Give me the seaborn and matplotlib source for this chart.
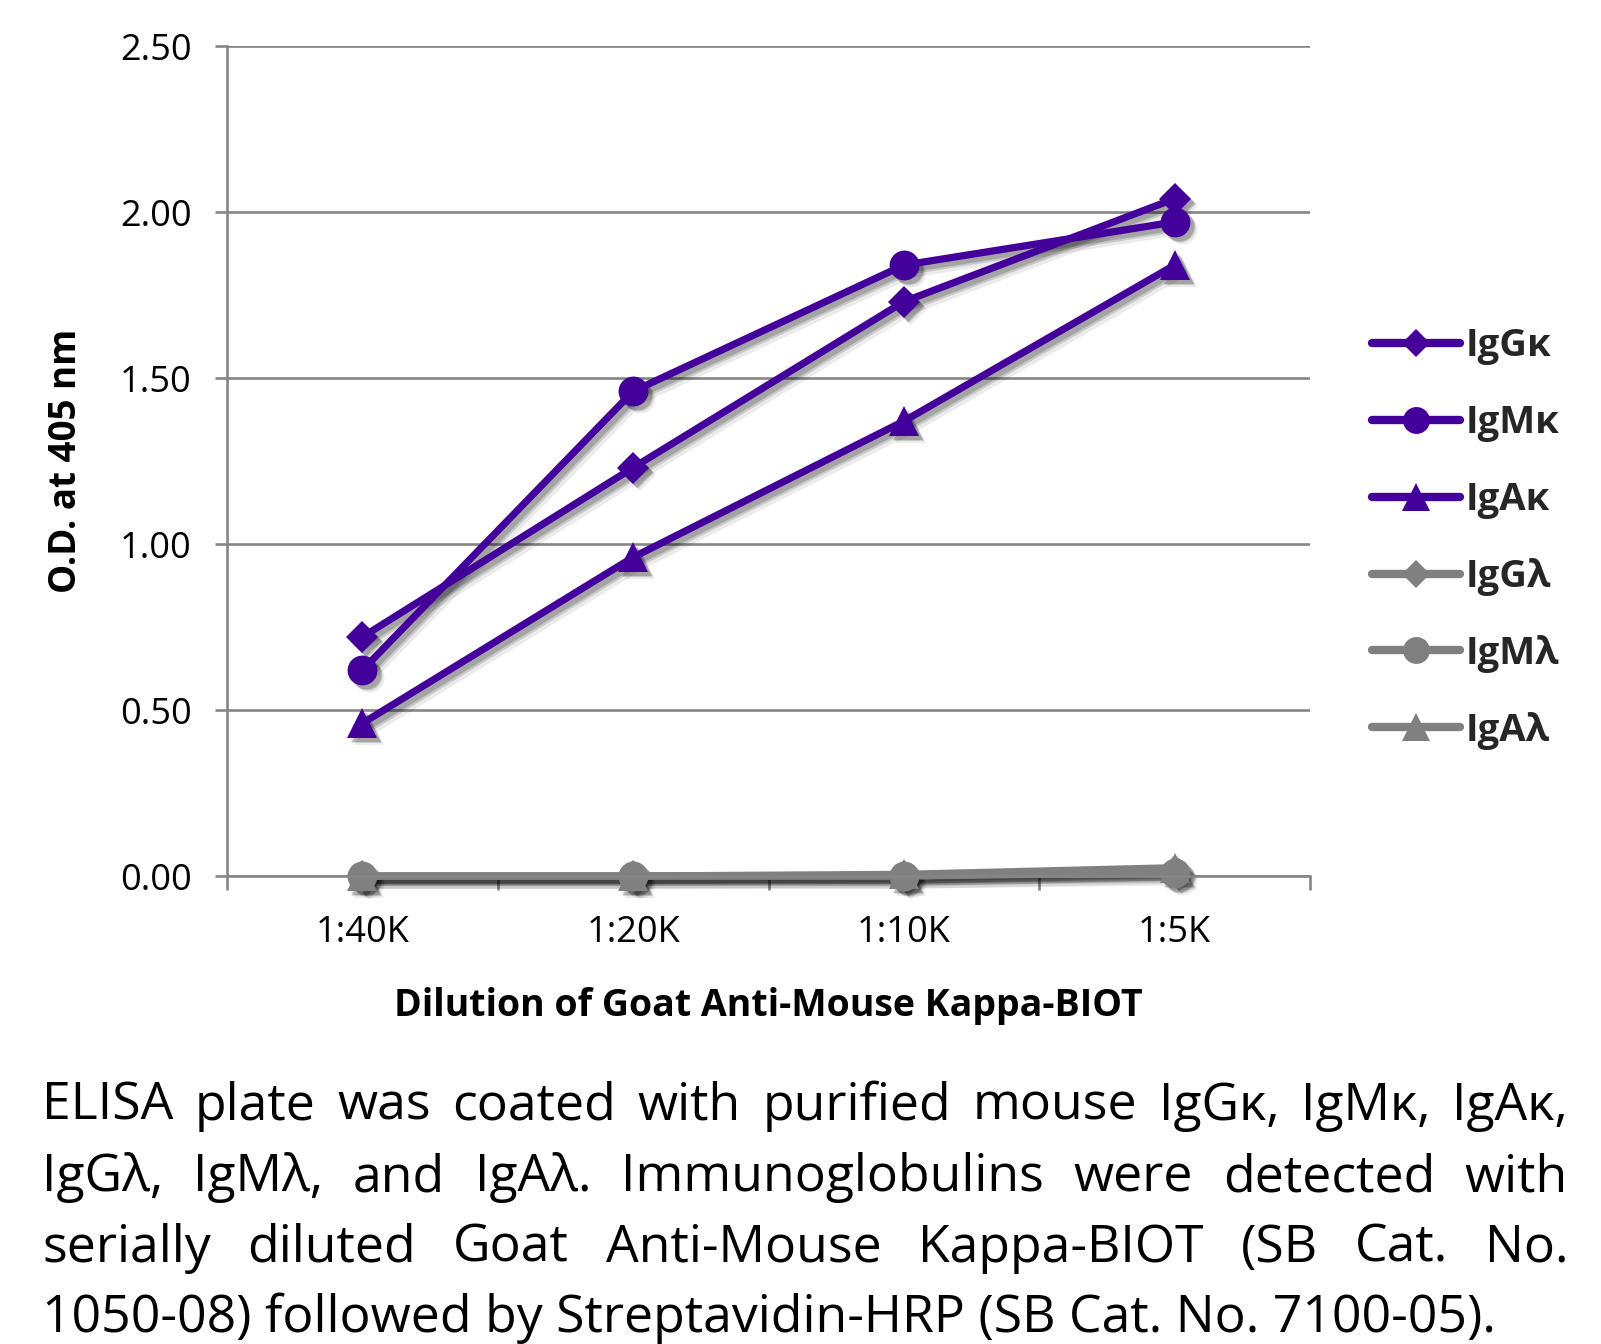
import numpy as np
import pandas as pd
import matplotlib
matplotlib.use("Agg")
import matplotlib.pyplot as plt
import seaborn as sns
from matplotlib import transforms as mtransforms
from matplotlib.lines import Line2D

# ---------------- data ----------------
dilutions = ["1:40K", "1:20K", "1:10K", "1:5K"]
igg_kappa = [0.72, 1.23, 1.73, 2.04]
igm_kappa = [0.62, 1.46, 1.84, 1.97]
iga_kappa = [0.46, 0.96, 1.37, 1.84]
igg_lambda = [0.00, 0.00, 0.00, 0.015]
igm_lambda = [0.00, 0.00, 0.00, 0.01]
iga_lambda = [0.00, 0.00, 0.005, 0.025]
series_names = ["IgGκ", "IgMκ", "IgAκ", "IgGλ", "IgMλ", "IgAλ"]
series_values = [igg_kappa, igm_kappa, iga_kappa, igg_lambda, igm_lambda, iga_lambda]
series_markers = ["D", "o", "^", "D", "o", "^"]
series_colors = ["#43009a", "#43009a", "#43009a", "#808080", "#808080", "#808080"]
y_ticks = [0.0, 0.5, 1.0, 1.5, 2.0, 2.5]
x_label = "Dilution of Goat Anti-Mouse Kappa-BIOT"
y_label = "O.D. at 405 nm"
caption_lines = [
    "ELISA plate was coated with purified mouse IgGκ, IgMκ, IgAκ,",
    "IgGλ, IgMλ, and IgAλ.  Immunoglobulins were detected with",
    "serially diluted Goat Anti-Mouse Kappa-BIOT (SB Cat. No.",
    "1050-08) followed by Streptavidin-HRP (SB Cat. No. 7100-05).",
]

# ---------------- style ----------------
sns.set_theme(style="white")
plt.rcParams["font.family"] = ["Open Sans", "DejaVu Sans"]
W, H = 1601, 1344
GRID = "#868686"
LW = 5.2
marker_ms = {"D": 16.0, "o": 21.5, "^": 22.0}

df = pd.DataFrame({
    "Dilution": dilutions * len(series_names),
    "OD": [v for vals in series_values for v in vals],
    "Series": np.repeat(series_names, len(dilutions)),
})
marker_map = dict(zip(series_names, series_markers))
color_map = dict(zip(series_names, series_colors))

fig = plt.figure(figsize=(W / 100, H / 100), dpi=100)
ax_l, ax_r, ax_t, ax_b = 227, 1310, 46, 876
ax = fig.add_axes([ax_l / W, 1 - ax_b / H, (ax_r - ax_l) / W, (ax_b - ax_t) / H])

# soft drop shadows (offset copies of the same data)
for off, alpha, extra in [(7, 0.08, 3.0), (5, 0.14, 1.5), (4, 0.18, 0.3)]:
    shadow_tr = mtransforms.offset_copy(ax.transData, fig=fig, x=off, y=-off, units="dots")
    sns.lineplot(data=df, x="Dilution", y="OD", hue="Series", style="Series",
                 markers=marker_map, dashes=False, sort=False, errorbar=None,
                 palette={n: "#000000" for n in series_names}, legend=False,
                 lw=LW + extra, alpha=alpha, transform=shadow_tr, ax=ax)

sns.lineplot(data=df, x="Dilution", y="OD", hue="Series", style="Series",
             markers=marker_map, dashes=False, sort=False, errorbar=None,
             palette=color_map, legend=False, lw=LW, ax=ax)

for ln in ax.lines:
    m = ln.get_marker()
    ln.set_markersize(marker_ms.get(m, 20))
    ln.set_markeredgewidth(0)
    ln.set_solid_capstyle("round")
    ln.set_solid_joinstyle("round")
    ln.set_clip_on(False)

# axes cosmetics
ax.set_xlim(-0.5, 3.5)
ax.set_ylim(0, 2.5)
ax.set_yticks(y_ticks)
ax.set_yticklabels([f"{t:.2f}" for t in y_ticks])
ax.set_xticks(range(len(dilutions)))
ax.set_xticklabels(dilutions)
ax.set_xticks(np.arange(-0.5, len(dilutions), 1.0), minor=True)
ax.yaxis.grid(True, color=GRID, lw=1.9)
ax.xaxis.grid(False)
ax.set_axisbelow(True)
for s in ["top", "right"]:
    ax.spines[s].set_visible(False)
for s in ["left", "bottom"]:
    ax.spines[s].set_color(GRID)
    ax.spines[s].set_linewidth(1.9)
ax.tick_params(axis="y", which="major", left=True, length=8.6, width=1.9,
               color=GRID, pad=17, labelsize=26, labelcolor="black")
ax.tick_params(axis="x", which="major", bottom=False, length=0, pad=28,
               labelsize=26, labelcolor="black")
ax.tick_params(axis="x", which="minor", bottom=True, length=10, width=1.9, color=GRID)

ax.set_xlabel(x_label, fontsize=27, fontweight="bold", color="black")
ax.set_ylabel(y_label, fontsize=26.5, fontweight="bold", color="black")
ax.xaxis.set_label_coords(0.5, -(987 - ax_b) / (ax_b - ax_t))
ax.xaxis.label.set_va("top")
ax.yaxis.set_label_coords((85 - ax_l) / (ax_r - ax_l), 0.5)

# legend
handles = [Line2D([], [], color=c, lw=LW + 0.8, marker=m, ms=marker_ms[m] * 0.9,
                  mew=0, solid_capstyle="round")
           for c, m in zip(series_colors, series_markers)]
fig.legend(handles, series_names, loc="upper left",
           bbox_to_anchor=(1372 / W, 1 - 327 / H), frameon=False,
           handlelength=2.3, handletextpad=0.16, labelspacing=1.02,
           borderpad=0, borderaxespad=0, numpoints=1,
           prop={"weight": "bold", "size": 27.5})

# caption (justified)
renderer = fig.canvas.get_renderer()

def text_width(s, size):
    t = fig.text(0, 0, s, fontsize=size)
    w = t.get_window_extent(renderer).width
    t.remove()
    return w

cap_left, cap_right = 42, 1568
base_fs = 37
w_last = text_width(caption_lines[-1], base_fs)
fs = base_fs * (1497 - cap_left) / w_last
w_first = text_width(caption_lines[0], base_fs)
fs = min(fs, base_fs * (cap_right - cap_left) * 0.985 / w_first, 40)
baselines = [1120, 1191, 1262, 1332]
for i, (line, yb) in enumerate(zip(caption_lines, baselines)):
    y = 1 - yb / H
    if i == len(caption_lines) - 1:
        fig.text(cap_left / W, y, line, fontsize=fs, va="baseline", ha="left", color="black")
        continue
    words = line.split()
    widths = [text_width(wd, fs) for wd in words]
    gap = (cap_right - cap_left - sum(widths)) / (len(words) - 1)
    x = cap_left
    for wd, ww in zip(words, widths):
        fig.text(x / W, y, wd, fontsize=fs, va="baseline", ha="left", color="black")
        x += ww + gap

fig.savefig("out.png", dpi=100, facecolor="white")
